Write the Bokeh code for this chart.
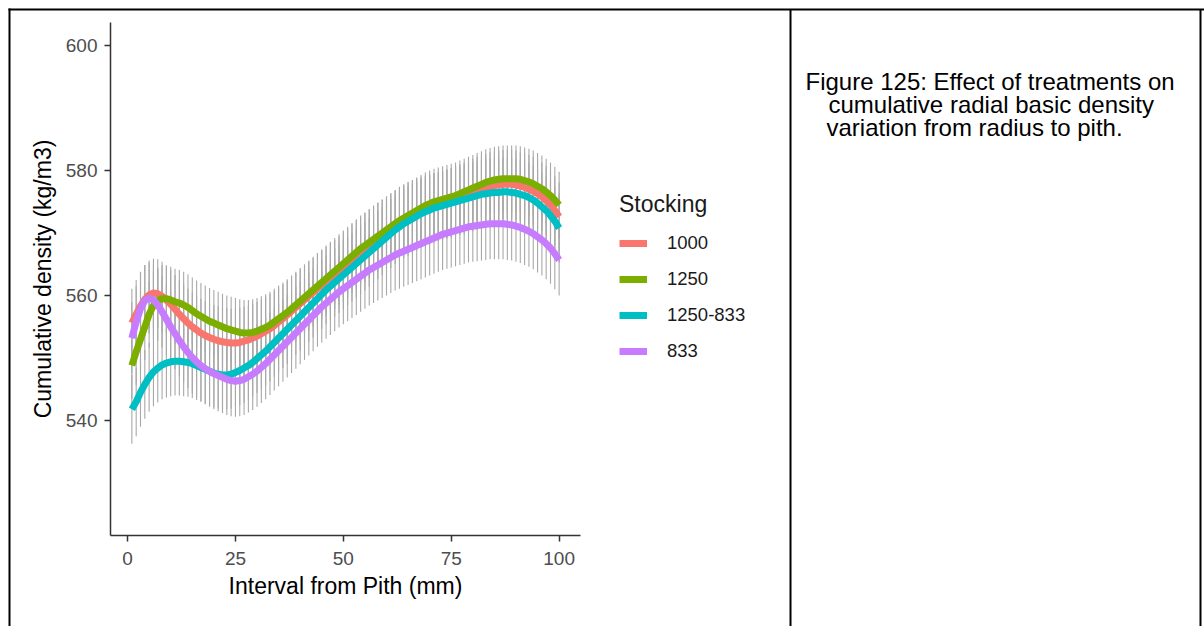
from bokeh.plotting import figure
from bokeh.models import Range1d, FixedTicker, Legend, LegendItem, Label, Arrow
from bokeh.embed import file_html
from bokeh.resources import INLINE

# ---------------- data ----------------
interval = list(range(1, 101))

dens_1000 = [555.6, 557.0, 558.3, 559.4, 560.1, 560.4, 560.3, 559.9, 559.3, 558.6,
             557.8, 557.0, 556.3, 555.6, 555.0, 554.5, 554.0, 553.6, 553.3, 553.0,
             552.8, 552.6, 552.5, 552.4, 552.4, 552.5, 552.7, 552.9, 553.2, 553.5,
             553.9, 554.3, 554.7, 555.2, 555.8, 556.3, 556.9, 557.5, 558.1, 558.7,
             559.3, 559.9, 560.5, 561.1, 561.7, 562.3, 562.9, 563.4, 564.0, 564.6,
             565.2, 565.9, 566.5, 567.1, 567.7, 568.3, 568.9, 569.4, 569.9, 570.4,
             570.9, 571.4, 571.9, 572.3, 572.7, 573.0, 573.3, 573.5, 573.7, 573.9,
             574.1, 574.3, 574.5, 574.7, 574.9, 575.2, 575.5, 575.8, 576.1, 576.4,
             576.7, 577.0, 577.2, 577.4, 577.6, 577.7, 577.8, 577.8, 577.8, 577.7,
             577.5, 577.3, 577.0, 576.7, 576.3, 575.8, 575.2, 574.5, 573.6, 572.6]

dens_1250 = [548.8, 551.0, 553.0, 555.0, 557.0, 558.4, 559.2, 559.5, 559.5, 559.3,
             559.0, 558.8, 558.5, 558.1, 557.6, 557.1, 556.7, 556.3, 555.9, 555.6,
             555.3, 555.0, 554.7, 554.5, 554.3, 554.1, 554.0, 554.0, 554.1, 554.3,
             554.6, 554.9, 555.3, 555.8, 556.3, 556.8, 557.3, 557.9, 558.5, 559.1,
             559.7, 560.3, 560.9, 561.5, 562.1, 562.7, 563.3, 563.9, 564.5, 565.1,
             565.7, 566.3, 566.9, 567.5, 568.0, 568.5, 569.0, 569.5, 570.0, 570.5,
             571.0, 571.5, 572.0, 572.4, 572.8, 573.2, 573.6, 574.0, 574.4, 574.7,
             575.0, 575.2, 575.4, 575.6, 575.8, 576.0, 576.3, 576.6, 576.9, 577.2,
             577.5, 577.8, 578.1, 578.3, 578.5, 578.6, 578.7, 578.7, 578.7, 578.7,
             578.6, 578.4, 578.2, 577.9, 577.5, 577.1, 576.6, 576.0, 575.3, 574.5]

dens_1250_833 = [541.8, 543.0, 544.5, 545.8, 546.9, 547.8, 548.4, 548.9, 549.2, 549.4,
                 549.5, 549.5, 549.4, 549.3, 549.1, 548.8, 548.5, 548.2, 547.9, 547.6,
                 547.4, 547.3, 547.3, 547.4, 547.7, 548.0, 548.4, 548.8, 549.3, 549.9,
                 550.5, 551.1, 551.8, 552.5, 553.2, 553.9, 554.6, 555.3, 556.0, 556.7,
                 557.4, 558.1, 558.8, 559.5, 560.2, 560.9, 561.5, 562.1, 562.7, 563.3,
                 563.9, 564.5, 565.1, 565.7, 566.3, 566.9, 567.5, 568.1, 568.7, 569.3,
                 569.9, 570.5, 571.0, 571.5, 571.9, 572.3, 572.7, 573.1, 573.4, 573.7,
                 574.0, 574.2, 574.4, 574.6, 574.8, 575.0, 575.2, 575.4, 575.6, 575.8,
                 576.0, 576.2, 576.3, 576.4, 576.5, 576.5, 576.6, 576.6, 576.5, 576.4,
                 576.2, 576.0, 575.7, 575.3, 574.8, 574.2, 573.6, 572.8, 571.9, 570.8]

dens_833 = [553.2, 555.8, 557.9, 559.2, 559.6, 559.3, 558.5, 557.4, 556.2, 555.0,
            553.9, 552.8, 551.8, 550.9, 550.1, 549.4, 548.8, 548.3, 547.9, 547.5,
            547.2, 546.9, 546.6, 546.4, 546.3, 546.4, 546.6, 547.0, 547.4, 547.9,
            548.5, 549.1, 549.8, 550.5, 551.2, 551.9, 552.6, 553.3, 554.0, 554.7,
            555.4, 556.1, 556.8, 557.5, 558.2, 558.8, 559.4, 560.0, 560.6, 561.1,
            561.6, 562.1, 562.6, 563.1, 563.6, 564.1, 564.5, 564.9, 565.3, 565.7,
            566.1, 566.5, 566.8, 567.1, 567.4, 567.7, 568.0, 568.3, 568.6, 568.9,
            569.2, 569.5, 569.8, 570.0, 570.2, 570.4, 570.6, 570.8, 571.0, 571.1,
            571.2, 571.3, 571.4, 571.5, 571.5, 571.5, 571.5, 571.4, 571.3, 571.1,
            570.9, 570.6, 570.3, 569.9, 569.4, 568.9, 568.3, 567.6, 566.7, 565.7]

stocking = ["1000", "1250", "1250-833", "833"]
series = [dens_1000, dens_1250, dens_1250_833, dens_833]
err_half = [5.5, 5.3, 5.5, 5.7]
colors = ["#F8766D", "#7CAE00", "#00BFC4", "#C77CFF"]

x_ticks = [0, 25, 50, 75, 100]
y_ticks = [540, 560, 580, 600]

caption = ["Figure 125: Effect of treatments on",
           "cumulative radial basic density",
           "variation from radius to pith."]

# ---------------- layout ----------------
W, H = 1204, 626
PL, PR, PT, PB = 110, 580, 22, 535          # plot panel in canvas px
X0, X1 = -3.95, 104.95                      # visible data extent of the panel
Y0, Y1 = 521.6, 603.7
SX = (PR - PL) / (X1 - X0)
SY = (PB - PT) / (Y1 - Y0)
FONT = "Liberation Sans"


def dx(px):
    return X0 + (px - PL) / SX


def dy(py):
    return Y1 - (py - PT) / SY


p = figure(width=W, height=H,
           x_range=Range1d(dx(0), dx(W)), y_range=Range1d(dy(H), dy(0)),
           output_backend="svg", toolbar_location=None,
           min_border_left=0, min_border_right=0, min_border_top=0, min_border_bottom=0)
p.outline_line_color = None
p.xgrid.visible = False
p.ygrid.visible = False
p.background_fill_color = "white"
p.border_fill_color = "white"

# error bars
for s, e in zip(series, err_half):
    p.segment(x0=interval, y0=[v - e for v in s], x1=interval, y1=[v + e for v in s],
              line_color="#A8A8A8", line_width=1.1)

# smooth lines
items = []
for name, s, c in zip(stocking, series, colors):
    r = p.line(interval, s, line_color=c, line_width=7)
    items.append(LegendItem(label=name, renderers=[r]))

# axes (drawn at the panel edges, restricted to the panel extent)
for ax in (p.xaxis[0], p.yaxis[0]):
    ax.axis_line_color = "#333333"
    ax.axis_line_width = 1.5
    ax.major_tick_line_color = "#333333"
    ax.major_tick_line_width = 1.5
    ax.major_tick_in = 0
    ax.major_tick_out = 6
    ax.minor_tick_line_color = None
    ax.major_label_text_font = FONT
    ax.major_label_text_font_size = "19px"
    ax.major_label_text_color = "#4D4D4D"
    ax.axis_label_text_font = FONT
    ax.axis_label_text_font_size = "23px"
    ax.axis_label_text_font_style = "normal"
    ax.axis_label_text_color = "black"

p.xaxis.ticker = FixedTicker(ticks=x_ticks)
p.yaxis.ticker = FixedTicker(ticks=y_ticks)
p.xaxis.bounds = (X0, X1)
p.yaxis.bounds = (Y0, Y1)
p.xaxis.fixed_location = Y0
p.yaxis.fixed_location = X0
p.xaxis.axis_label = "Interval from Pith (mm)"
p.yaxis.axis_label = "Cumulative density (kg/m3)"
p.xaxis.major_label_standoff = 10
p.yaxis.major_label_standoff = 7
p.xaxis.axis_label_standoff = 5
p.yaxis.axis_label_standoff = 7

legend = Legend(items=items, title="Stocking", location=(619, H - 366),
                title_text_font=FONT, title_text_font_size="23px",
                title_text_font_style="normal", title_text_color="#1A1A1A",
                title_standoff=10,
                label_text_font=FONT, label_text_font_size="18.5px",
                label_text_color="#1A1A1A",
                glyph_width=28, glyph_height=30, label_height=30,
                spacing=6, label_standoff=20, padding=0, margin=0,
                border_line_color=None, background_fill_alpha=0)
p.add_layout(legend)

# caption on the right
cap_x = [805, 828, 826]
cap_base = [81, 104, 127]
for t, cx, cb in zip(caption, cap_x, cap_base):
    p.add_layout(Label(x=dx(cx), y=dy(cb), text=t, text_font=FONT,
                       text_font_size="24px", text_color="black",
                       text_baseline="alphabetic", text_align="left"))

# table borders
for (xa, ya, xb, yb) in [(8, 9, W, 9), (9, 8, 9, H), (790, 9, 790, H), (1200, 9, 1200, H)]:
    p.add_layout(Arrow(end=None, start=None, x_start=dx(xa), y_start=dy(ya),
                       x_end=dx(xb), y_end=dy(yb), line_color="black", line_width=2))

open("out.html", "w").write(file_html(p, INLINE))
